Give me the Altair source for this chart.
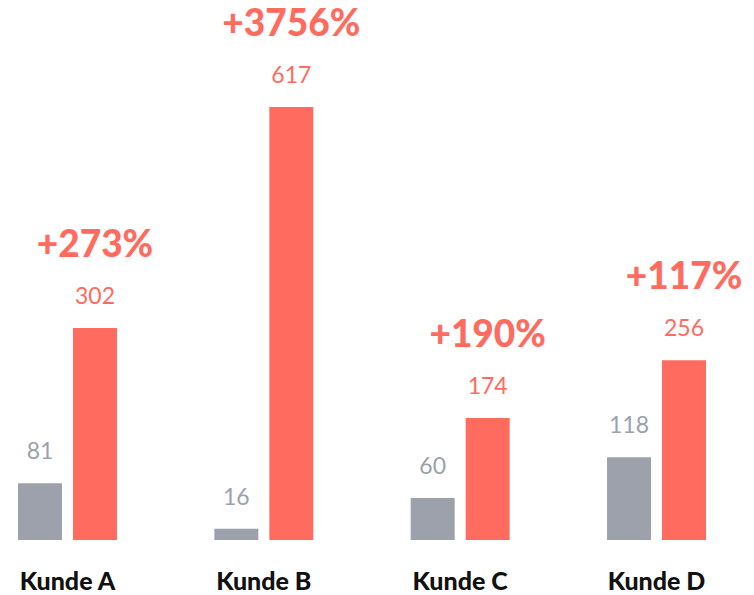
import altair as alt
import pandas as pd

kunden = ["Kunde A", "Kunde B", "Kunde C", "Kunde D"]
vorher = [81, 16, 60, 118]
nachher = [302, 617, 174, 256]
zuwachs = ["+273%", "+3756%", "+190%", "+117%"]

GREY = "#9ca1ac"
GREY_TXT = "#8b909b"
RED = "#ff6b5e"
FONT = "Lato"

rows = []
for k, v, n, z in zip(kunden, vorher, nachher, zuwachs):
    rows.append({"kunde": k, "serie": "vorher", "wert": v, "pct": ""})
    rows.append({"kunde": k, "serie": "nachher", "wert": n, "pct": z})
df = pd.DataFrame(rows)

x = alt.X("kunde:N", sort=kunden, title=None,
          scale=alt.Scale(paddingInner=0.496, paddingOuter=0),
          axis=alt.Axis(domain=False, ticks=False, labelAngle=0, grid=False,
                        labelFont=FONT, labelFontWeight=900, labelFontSize=25,
                        labelColor="#111111", labelPadding=29, labelBaseline="top"))
xo = alt.XOffset("serie:N", sort=["vorher", "nachher"],
                 scale=alt.Scale(paddingInner=0.2, paddingOuter=0))
y = alt.Y("wert:Q", scale=alt.Scale(domain=[0, 761], nice=False, zero=True), axis=None)
color = alt.Color("serie:N", scale=alt.Scale(domain=["vorher", "nachher"], range=[GREY, RED]), legend=None)

base = alt.Chart(df).encode(x=x, xOffset=xo, y=y)

bars = base.mark_bar().encode(color=color)

vals = base.mark_text(font=FONT, fontSize=23, dy=-31, baseline="middle").encode(
    text="wert:Q",
    color=alt.Color("serie:N", scale=alt.Scale(domain=["vorher", "nachher"], range=[GREY_TXT, RED]), legend=None),
)

pcts = base.transform_filter(alt.datum.serie == "nachher").mark_text(
    font=FONT, fontSize=37, fontWeight=900, dy=-82, baseline="middle", color=RED
).encode(text="pct:N")

chart = alt.layer(bars, vals, pcts).properties(
    width=688, height=534,
    autosize=alt.AutoSizeParams(type="none"),
    padding={"left": 18, "top": 6, "right": 48, "bottom": 55},
    background="white",
).configure_view(strokeWidth=0, stroke="transparent")

chart.save("out.html", embed_options={"renderer": "svg", "actions": False})
